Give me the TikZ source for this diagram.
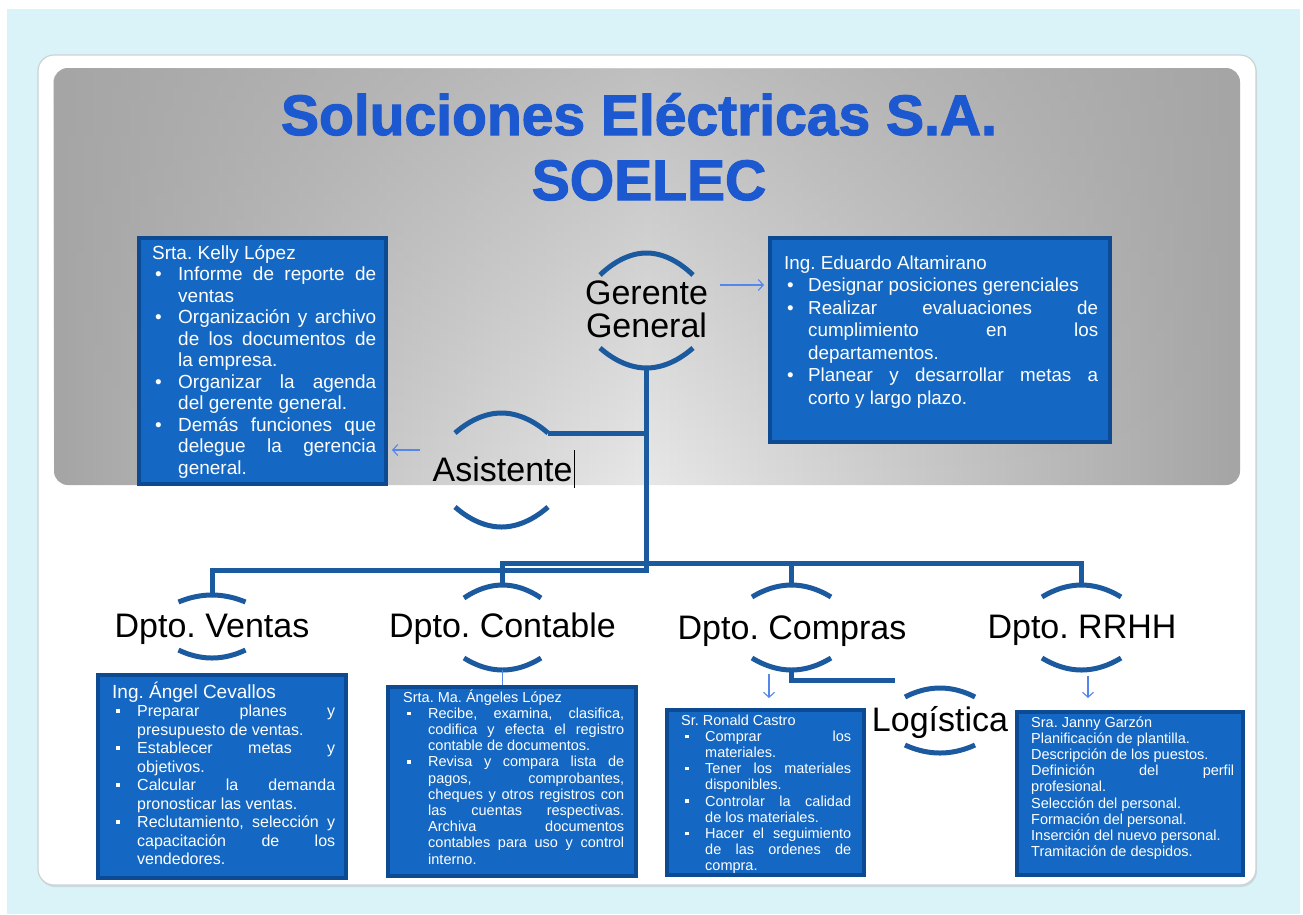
\documentclass[tikz,border=0pt]{standalone}
\usepackage{fontspec}
\setmainfont{Liberation Sans}
\newfontfamily\titlefont{Liberation Sans}[BoldFeatures={FakeBold=2}]
\usepackage{tikz}
\usetikzlibrary{arrows.meta,shadows,fadings}

\definecolor{bgcyan}{RGB}{218,243,248}
\definecolor{cardline}{RGB}{205,210,212}
\definecolor{panellight}{RGB}{232,232,232}
\definecolor{paneldark}{RGB}{165,165,165}
\definecolor{titleblue}{RGB}{28,88,208}
\definecolor{linkblue}{RGB}{28,90,160}
\definecolor{arrblue}{RGB}{85,135,235}
\definecolor{boxfill}{RGB}{20,104,196}
\definecolor{boxedge}{RGB}{12,74,148}

\frenchspacing
\hyphenpenalty=10000
\exhyphenpenalty=10000

\newlength{\itemind}
\newcommand{\itm}{\par\hangindent=\itemind\hangafter=1\noindent\makebox[\itemind][l]{\hspace{3pt}\textbullet}}
\newcommand{\sqitm}{\par\hangindent=\itemind\hangafter=1\noindent\makebox[\itemind][l]{\hspace{4pt}\rule[0.22em]{0.24em}{0.24em}}}
% contorno claro de las letras del titulo
\newcommand{\edgeblue}{\special{pdf:content 0.36 0.58 0.93 RG}}

\tikzset{
  ring/.style={draw=linkblue, line width=5pt},
  link/.style={draw=linkblue, line width=5pt},
  arr/.style={draw=arrblue, line width=1.1pt, -{Straight Barb[length=5pt,width=11pt]}},
  dept/.style={font=\fontsize{34}{33}\selectfont, inner sep=0pt},
  title/.style={font=\titlefont\fontsize{57}{60}\selectfont\bfseries, text=titleblue, anchor=base, inner sep=0pt},
  box/.style={draw=boxedge, fill=boxfill, line width=4pt,
    drop shadow={shadow xshift=2pt, shadow yshift=-2pt, opacity=0.35}},
  boxtext/.style={text=white, anchor=base west, inner sep=0pt, align=justify,
    execute at begin node={\tolerance=10000\hbadness=10000}},
}

\begin{document}
\begin{tikzpicture}[x=1pt,y=-1pt]
% fondo y tarjeta
\fill[white] (0,0) rectangle (1303,914);
\fill[bgcyan] (7,9) rectangle (1300,914);
\draw[cardline, fill=white, rounded corners=16pt, line width=1.2pt,
  drop shadow={shadow xshift=1pt, shadow yshift=-2pt, opacity=0.2}] (38,55) rectangle (1256,885);
\shade[rounded corners=14pt, left color=paneldark, right color=paneldark, middle color=panellight]
  (54,68) rectangle (1240,485);
\fill[rounded corners=14pt, paneldark, opacity=0.6, path fading=south] (54,68) rectangle (1240,485);

% titulo
\node[title] (tit1) at (639,135) {\edgeblue Soluciones Eléctricas S.A.};
\node[title] (tit2) at (649,200) {\edgeblue SOELEC};

% arcos de cada cargo
\foreach \n/\cx/\w/\ty/\ta/\by/\ba in {gg/646.5/46.5/275/253/348/368,
    as/501.5/46.5/433/413/507/527, ve/212/33.5/602/595/650/658,
    co/502.5/38.5/598/585/658/670, cp/791.5/39.5/597/585/658/670,
    rr/1081.5/39.5/597/585/658/670, lo/940/35/697/688/745/753}
  {\draw[ring] (\cx-\w,\ty) parabola bend (\cx,\ta) (\cx+\w,\ty);
   \draw[ring] (\cx-\w,\by) parabola bend (\cx,\ba) (\cx+\w,\by);
   \coordinate (\n-t) at (\cx,\ta);
   \coordinate (\n-b) at (\cx,\ba);
   \coordinate (\n-tr) at (\cx+\w,\ty);}

% cargos
\node[dept, align=center] (gg) at (646.5,309) {Gerente\\General};
\node[dept, anchor=base] (as) at (503.5,481) {Asistente\hspace{1pt}\rule[-7pt]{0.8pt}{38pt}};
\node[dept, anchor=base] (ve) at (212,637) {Dpto. Ventas};
\node[dept, anchor=base] (co) at (502.5,637) {Dpto. Contable};
\node[dept, anchor=base] (cp) at (792,639) {Dpto. Compras};
\node[dept, anchor=base] (rr) at (1082,638) {Dpto. RRHH};
\node[dept, anchor=base] (lo) at (940,731) {Logística};

% lineas de mando
\draw[link] (gg-b) -- ++(0,202) -| (ve-t);
\draw[link] (gg-b |- as-tr) -- (as-tr);
\draw[link] (co-t) -- ++(0,-22) -| (rr-t);
\draw[link] (cp-t) -- ++(0,-22);
\draw[link] (cp-b) -- ++(0,10) -- ++(103,0);

% cajas
\node[box, minimum width=247pt, minimum height=246pt] (kel) at (262.5,361) {};
\node[box, minimum width=340pt, minimum height=204pt] (edu) at (940,340) {};
\node[box, minimum width=248pt, minimum height=203pt] (ang) at (222,776.5) {};
\node[box, minimum width=248pt, minimum height=189pt] (ange) at (512,781.5) {};
\node[box, minimum width=197pt, minimum height=165pt] (ron) at (765.5,792.5) {};
\node[box, minimum width=226pt, minimum height=163pt] (jan) at (1130,793.5) {};

\node[boxtext, text width=224pt, font=\fontsize{19}{21.5}\selectfont] (kel-t) at (152,259) {%
  \setlength{\itemind}{26pt}\noindent Srta. Kelly López
  \itm Informe de reporte de\linebreak ventas
  \itm Organización y archivo\linebreak de los documentos de\linebreak la empresa.
  \itm Organizar la agenda\linebreak del gerente general.
  \itm Demás funciones que\linebreak delegue la gerencia\linebreak general.\par};

\node[boxtext, text width=314pt, font=\fontsize{18.8}{22.5}\selectfont] (edu-t) at (784,269) {%
  \setlength{\itemind}{24pt}\noindent Ing. Eduardo Altamirano
  \itm Designar posiciones gerenciales
  \itm Realizar evaluaciones de\linebreak cumplimiento en los\linebreak departamentos.
  \itm Planear y desarrollar metas a\linebreak corto y largo plazo.\par};

\node[boxtext, text width=223pt, font=\fontsize{16}{18.5}\selectfont] (ang-t) at (112,698) {%
  \setlength{\itemind}{25pt}\noindent{\fontsize{19}{20}\selectfont Ing. Ángel Cevallos\par}
  \sqitm Preparar planes y\linebreak presupuesto de ventas.
  \sqitm Establecer metas y\linebreak objetivos.
  \sqitm Calcular la demanda\linebreak pronosticar las ventas.
  \sqitm Reclutamiento, selección y\linebreak capacitación de los\linebreak vendedores.\par};

\node[boxtext, text width=221pt, font=\fontsize{14.5}{16.2}\selectfont] (ange-t) at (403,702) {%
  \setlength{\itemind}{25pt}\noindent Srta. Ma. Ángeles López
  \sqitm Recibe, examina, clasifica,\linebreak codifica y efecta el registro\linebreak contable de documentos.
  \sqitm Revisa y compara lista de\linebreak pagos, comprobantes,\linebreak cheques y otros registros con\linebreak
    las cuentas respectivas.\linebreak Archiva documentos\linebreak contables para uso y control\linebreak interno.\par};

\node[boxtext, text width=170pt, font=\fontsize{14.5}{16.2}\selectfont] (ron-t) at (681,725) {%
  \setlength{\itemind}{24pt}\noindent Sr. Ronald Castro
  \sqitm Comprar los\linebreak materiales.
  \sqitm Tener los materiales\linebreak disponibles.
  \sqitm Controlar la calidad\linebreak de los materiales.
  \sqitm Hacer el seguimiento\linebreak de las ordenes de\linebreak compra.\par};

\node[boxtext, text width=203pt, font=\fontsize{14.5}{16.2}\selectfont] (jan-t) at (1031,727) {%
  \noindent Sra. Janny Garzón\par
  \noindent Planificación de plantilla.\par
  \noindent Descripción de los puestos.\par
  \noindent Definición del perfil\linebreak profesional.\par
  \noindent Selección del personal.\par
  \noindent Formación del personal.\par
  \noindent Inserción del nuevo personal.\par
  \noindent Tramitación de despidos.\par};

% flechas finas
\coordinate (gg-o) at (720,285);
\coordinate (as-o) at (420,450);
\coordinate (cp-o) at (769,674);
\coordinate (rr-o) at (1088,676);
\draw[arr, shorten >=4pt] (gg-o) -- (gg-o -| edu.west);
\draw[arr, shorten >=4pt] (as-o) -- (as-o -| kel.east);
\draw[arr, shorten >=10pt] (cp-o) -- (cp-o |- ron.north);
\draw[arr, shorten >=12pt] (rr-o) -- (rr-o |- jan.north);
\draw[arrblue, line width=1pt] (co-b) -- (co-b |- ange.north);
\end{tikzpicture}
\end{document}
